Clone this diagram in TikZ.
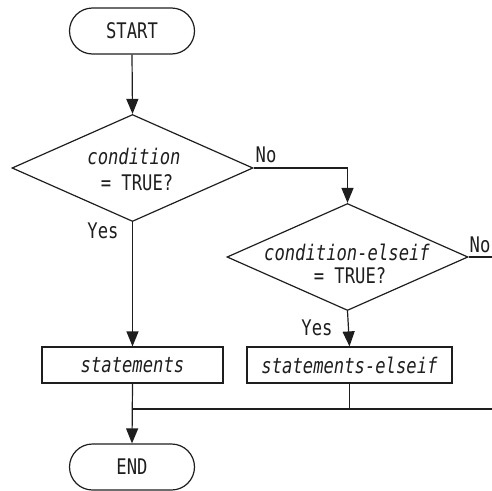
\documentclass[tikz,border=0pt]{standalone}
\usepackage{fontspec}
\setmonofont[FakeStretch=0.8]{DejaVu Sans Mono}
\usetikzlibrary{arrows.meta,shapes.geometric}
\definecolor{lc}{RGB}{30,30,30}
\begin{document}
\begin{tikzpicture}[x=1pt,y=-1pt,
  every node/.style={font=\ttfamily\fontsize{21.5}{27}\selectfont, text=lc},
  term/.style={draw=lc, line width=1.2pt, rounded corners=23pt, minimum width=125pt, minimum height=46pt, inner sep=0pt},
  dec/.style={draw=lc, line width=1.2pt, shape=diamond, inner sep=0pt, minimum width=241pt, minimum height=107pt},
  proc/.style={draw=lc, line width=1.2pt, minimum height=36pt, inner sep=0pt},
  txt/.style={inner sep=0pt},
  conn/.style={draw=lc, line width=1.2pt},
  arr/.style={conn, -{Triangle[length=15pt,width=12pt]}}]
\useasboundingbox (0,0) rectangle (492,490);
\node[term] (start) at (132,31) {START};
\node[dec] (d1) at (132.5,168) {};
\node[txt] (c1) at (134,156) {\itshape condition};
\node[txt] (t1) at (137,183) {= TRUE?};
\node[dec] (d2) at (347.5,257) {};
\node[txt] (c2) at (347,252) {\itshape condition-elseif};
\node[txt] (t2) at (350,276) {= TRUE?};
\node[proc, minimum width=181pt] (s1) at (132.5,365) {\itshape statements};
\node[proc, minimum width=205pt] (s2) at (349.5,365) {\itshape statements-elseif};
\node[term] (end) at (132,467) {END};
\node[txt] (yes1) at (103,231) {Yes};
\node[txt] (yes2) at (317,328) {Yes};
\node[txt] (no1) at (266,155) {No};
\node[txt] (no2) at (480,245) {No};
\coordinate (nofree) at (492,257);
\coordinate (mL) at (132,409);
\coordinate (mR) at (492,409);
\draw[arr] (start.south) -- (d1.north);
\draw[arr] (d1.east) -| (d2.north);
\draw[conn] (d2.east) -- (nofree);
\draw[arr] (d1.south) -- (s1.north);
\draw[arr] (d2.south) -- (s2.north);
\draw[arr] (s1.south) -- (end.north);
\draw[conn] (mL) -- (mR);
\draw[conn] (s2.south) -- (s2.south |- mL);
\end{tikzpicture}
\end{document}
